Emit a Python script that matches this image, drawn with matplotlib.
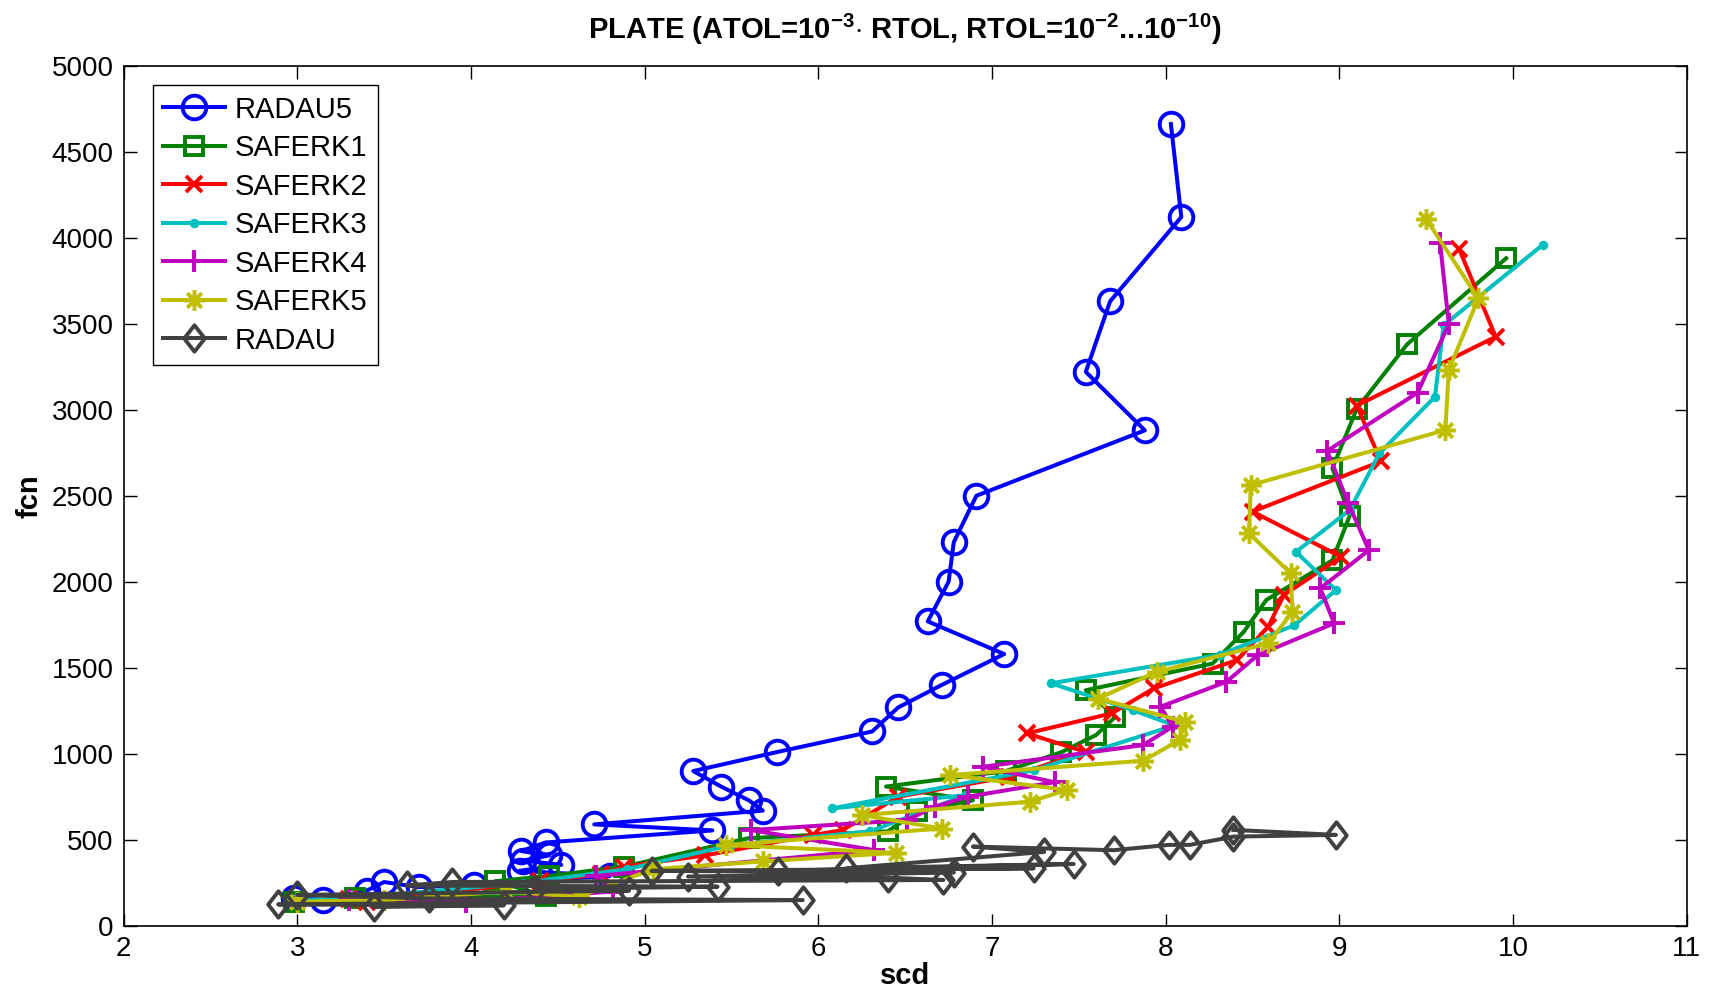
import matplotlib
matplotlib.use('Agg')
import matplotlib.pyplot as plt
from matplotlib.path import Path

plt.rcParams['font.family'] = ['Liberation Sans', 'DejaVu Sans']
plt.rcParams['mathtext.fontset'] = 'custom'
plt.rcParams['mathtext.rm'] = 'Liberation Sans'
plt.rcParams['mathtext.bf'] = 'Liberation Sans:bold'

# ---- data ----
radau5_scd = [2.98, 3.15, 3.40, 3.50, 3.70, 4.02, 4.80, 4.28, 4.52, 4.30, 4.45, 4.29, 4.43,
              5.39, 4.71, 5.68, 5.60, 5.44, 5.28, 5.76, 6.31, 6.46, 6.71, 7.07, 6.63, 6.75,
              6.78, 6.91, 7.88, 7.54, 7.68, 8.09, 8.03]
radau5_fcn = [165, 150, 205, 255, 225, 240, 290, 320, 355, 380, 410, 435, 485,
              555, 590, 670, 730, 810, 900, 1010, 1130, 1270, 1400, 1580, 1770, 2000,
              2230, 2500, 2880, 3220, 3630, 4120, 4660]

saferk1_scd = [2.98, 3.33, 4.43, 4.14, 4.45, 4.88, 5.60, 6.40, 6.57, 6.89, 6.39, 7.08, 7.40,
               7.60, 7.71, 7.54, 8.27, 8.45, 8.58, 8.96, 9.06, 8.96, 9.10, 9.39, 9.96]
saferk1_fcn = [140, 160, 175, 260, 290, 345, 510, 550, 665, 730, 810, 900, 1010,
               1110, 1215, 1370, 1525, 1710, 1895, 2125, 2385, 2660, 3005, 3380, 3880]

saferk2_scd = [3.40, 3.30, 3.90, 4.40, 4.75, 4.88, 5.35, 5.97, 6.14, 6.46, 7.10, 7.54, 7.20,
               7.69, 7.93, 8.41, 8.59, 8.68, 9.01, 8.50, 9.24, 9.10, 9.90, 9.69]
saferk2_fcn = [140, 155, 200, 260, 300, 345, 410, 528, 557, 751, 867, 1011, 1119,
               1235, 1380, 1545, 1738, 1923, 2145, 2408, 2700, 3024, 3424, 3933]

saferk3_scd = [3.00, 3.30, 4.30, 4.90, 5.50, 6.30, 6.85, 6.08, 7.24, 8.05, 7.81, 7.34, 8.31,
               8.74, 8.98, 8.75, 9.06, 9.23, 9.55, 9.60, 10.17]
saferk3_fcn = [150, 160, 250, 330, 470, 550, 760, 683, 905, 1165, 1255, 1410, 1575,
               1747, 1952, 2174, 2417, 2746, 3075, 3490, 3958]

saferk4_scd = [3.30, 3.97, 4.82, 4.72, 6.32, 5.61, 6.51, 6.67, 6.86, 7.36, 6.95, 7.87, 8.04,
               7.97, 8.35, 8.53, 8.97, 8.89, 9.17, 9.05, 8.93, 9.45, 9.63, 9.58]
saferk4_fcn = [150, 140, 200, 290, 441, 557, 615, 692, 751, 835, 925, 1051, 1158,
               1274, 1419, 1574, 1759, 1962, 2184, 2460, 2761, 3099, 3497, 3967]

saferk5_scd = [3.00, 3.50, 4.20, 4.62, 5.05, 5.68, 6.45, 5.47, 6.71, 6.25, 7.22, 7.43, 6.76,
               7.87, 8.08, 8.11, 7.61, 7.95, 8.59, 8.73, 8.72, 8.48, 8.49, 9.61, 9.63, 9.80, 9.50]
saferk5_fcn = [140, 150, 200, 170, 330, 375, 425, 470, 566, 644, 722, 790, 877,
               960, 1080, 1187, 1321, 1477, 1642, 1825, 2049, 2281, 2562, 2882, 3231, 3647, 4108]

radau_scd = [3.44, 4.19, 2.89, 5.91, 3.76, 3.00, 4.91, 4.37, 5.42, 3.63, 3.89, 6.72, 6.40,
             5.25, 6.78, 5.04, 7.24, 5.77, 7.47, 6.16, 7.30, 6.89, 7.70, 8.02, 8.14, 8.39,
             8.98, 8.39]
radau_fcn = [110, 120, 125, 150, 160, 180, 205, 215, 228, 235, 255, 267, 280,
             287, 310, 320, 335, 320, 360, 335, 430, 461, 440, 471, 471, 519,
             529, 558]

# MATLAB-like marker shapes
diamond = Path([(0, 1), (0.78, 0), (0, -1), (-0.78, 0), (0, 1)],
               [Path.MOVETO, Path.LINETO, Path.LINETO, Path.LINETO, Path.CLOSEPOLY])
asterisk = Path([(0, -1), (0, 1), (-1, 0), (1, 0),
                 (-0.7, -0.7), (0.7, 0.7), (-0.7, 0.7), (0.7, -0.7)],
                [Path.MOVETO, Path.LINETO] * 4)

series = [
    ('RADAU5',  radau5_scd,  radau5_fcn,  '#0000FF', 'o', 17),
    ('SAFERK1', saferk1_scd, saferk1_fcn, '#008000', 's', 13),
    ('SAFERK2', saferk2_scd, saferk2_fcn, '#FF0000', 'x', 12),
    ('SAFERK3', saferk3_scd, saferk3_fcn, '#00BFBF', '.', 8),
    ('SAFERK4', saferk4_scd, saferk4_fcn, '#BF00BF', '+', 16),
    ('SAFERK5', saferk5_scd, saferk5_fcn, '#BFBF00', asterisk, 15),
    ('RADAU',   radau_scd,   radau_fcn,   '#404040', diamond, 19),
]

fig = plt.figure(figsize=(17.14, 9.97), dpi=100)
ax = fig.add_axes([0.0721, 0.0713, 0.9120, 0.8629])

for name, xs, ys, col, mk, ms in series:
    hollow = isinstance(mk, Path) or mk in ('o', 's')
    ax.plot(xs, ys, color=col, marker=mk, markersize=ms, linewidth=2.9,
            markerfacecolor='none' if hollow else col,
            markeredgewidth=2.8, label=name)

ax.set_xlim(2, 11)
ax.set_ylim(0, 5000)
ax.set_xticks(range(2, 12))
ax.set_yticks(range(0, 5001, 500))
ax.tick_params(direction='in', length=9, width=1, top=True, right=True,
               labelsize=20, pad=7)
for sp in ax.spines.values():
    sp.set_linewidth(1.2)

ax.set_xlabel('scd', fontsize=21, fontweight='bold', labelpad=0)
ax.set_ylabel('fcn', fontsize=21, fontweight='bold', labelpad=6)
ax.set_title(r'PLATE (ATOL=10$^{\mathbf{-3}}$$\cdot$ RTOL, RTOL=10$^{\mathbf{-2}}$...10$^{\mathbf{-10}}$)',
             fontsize=21, fontweight='bold', pad=19)

leg = ax.legend(loc='upper left', bbox_to_anchor=(0.019, 0.977), borderaxespad=0,
                fontsize=21, handlelength=2.1, handletextpad=0.35, labelspacing=0.36,
                fancybox=False, framealpha=1, edgecolor='black', borderpad=0.35)
leg.get_frame().set_linewidth(1.0)

fig.savefig('out.png', dpi=100)
